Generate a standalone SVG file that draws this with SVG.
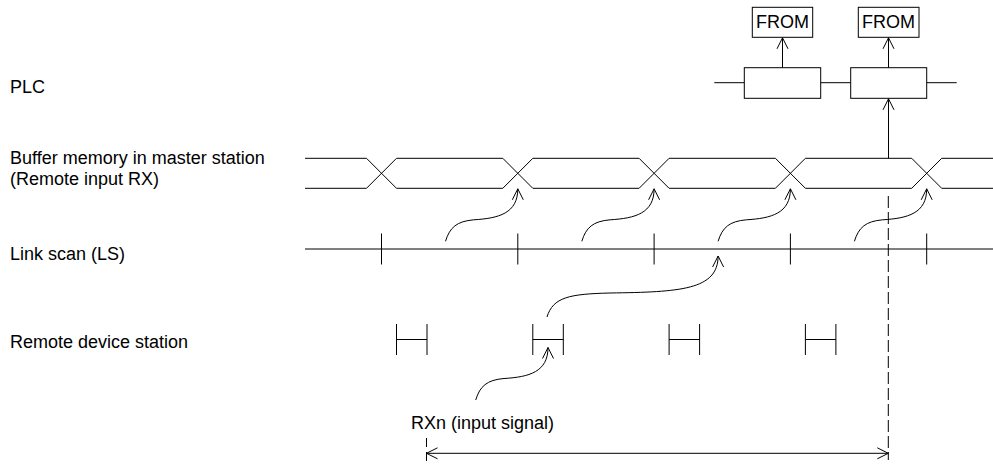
<svg xmlns="http://www.w3.org/2000/svg" width="993" height="464" viewBox="0 0 993 464">
<style>
text{font-family:"Liberation Sans",Arial,sans-serif;font-size:18px;fill:#000}
.ln{fill:none;stroke:#000;stroke-width:1}
.box{fill:#fff;stroke:#000;stroke-width:1}
.dash{fill:none;stroke:#000;stroke-width:1;stroke-dasharray:12,4}
.arr{fill:none;stroke:#000;stroke-width:1;marker-end:url(#ah)}
</style>
<defs>
<marker id="ah" markerUnits="userSpaceOnUse" markerWidth="14" markerHeight="14" refX="12" refY="7" orient="auto-start-reverse" viewBox="0 0 14 14">
<path d="M1,1.5 L12,7 L1,12.5" fill="none" stroke="#000" stroke-width="1"/>
</marker>
</defs>
<rect width="993" height="464" fill="#fff"/>
<g id="labels">
<text x="10" y="93.3">PLC</text>
<text x="10" y="163.7">Buffer memory in master station</text>
<text x="10" y="184.7">(Remote input RX)</text>
<text x="10" y="259.7">Link scan (LS)</text>
<text x="10" y="348.3">Remote device station</text>
<text x="411" y="429.3">RXn (input signal)</text>
</g>
<g id="plc-line">
<path class="ln" d="M714.3,82.7 H956.7"/>
</g>
<g id="plc-box-1"><rect class="box" x="744.3" y="67.7" width="76.4" height="30.6"/></g>
<g id="plc-box-2"><rect class="box" x="850.7" y="67.7" width="76" height="30.6"/></g>
<g id="from-1"><rect class="box" x="752.3" y="7.3" width="60.4" height="30"/><text x="782.5" y="28.3" text-anchor="middle">FROM</text></g>
<g id="from-2"><rect class="box" x="858.3" y="7.3" width="60.7" height="30"/><text x="888.6" y="28.3" text-anchor="middle">FROM</text></g>
<g id="buffer-memory">
<path class="ln" d="M305,158.3 H366.5 M396.5,158.3 H502.8 M532.8,158.3 H639.1 M669.1,158.3 H775.4 M805.4,158.3 H911.7 M941.7,158.3 H993
M305,188.3 H366.5 M396.5,188.3 H502.8 M532.8,188.3 H639.1 M669.1,188.3 H775.4 M805.4,188.3 H911.7 M941.7,188.3 H993
M366.5,158.3 L396.5,188.3 M366.5,188.3 L396.5,158.3
M502.8,158.3 L532.8,188.3 M502.8,188.3 L532.8,158.3
M639.1,158.3 L669.1,188.3 M639.1,188.3 L669.1,158.3
M775.4,158.3 L805.4,188.3 M775.4,188.3 L805.4,158.3
M911.7,158.3 L941.7,188.3 M911.7,188.3 L941.7,158.3"/>
</g>
<g id="link-scan">
<path class="ln" d="M305,249 H993 M381.5,233.5 V264.5 M517.8,233.5 V264.5 M654.1,233.5 V264.5 M790.4,233.5 V264.5 M926.7,233.5 V264.5"/>
</g>
<g id="remote-device-station">
<path class="ln" d="M396.5,324 V355 M427,324 V355 M396.5,339.5 H427
M532.8,324 V355 M563.3,324 V355 M532.8,339.5 H563.3
M669.1,324 V355 M699.6,324 V355 M669.1,339.5 H699.6
M805.4,324 V355 M835.9,324 V355 M805.4,339.5 H835.9"/>
</g>
<g id="connectors">
<path class="arr" d="M782.5,67.7 V37.8"/>
<path class="arr" d="M888.5,67.7 V37.8"/>
<path class="arr" d="M888.5,158.3 V98.8"/>
<path class="arr" d="M445.5,241.3 c4.3,-14 11.3,-20 28.3,-21.5 c25,-1.5 44,-6.5 44,-31"/>
<path class="arr" d="M581.8,241.3 c4.3,-14 11.3,-20 28.3,-21.5 c25,-1.5 44,-6.5 44,-31"/>
<path class="arr" d="M718.1,241.3 c4.3,-14 11.3,-20 28.3,-21.5 c25,-1.5 44,-6.5 44,-31"/>
<path class="arr" d="M854.4,241.3 c4.3,-14 11.3,-20 28.3,-21.5 c25,-1.5 44,-6.5 44,-31"/>
<path class="arr" d="M547,317 C553,297 570,294 610,293 C680,292 718.1,290 718.1,256"/>
<path class="arr" d="M475.7,400 c4.3,-14 11.3,-20 28.3,-21.5 c25,-1.5 44,-6.5 44,-31"/>
<path class="dash" d="M888.3,196 V460"/>
<path class="ln" d="M426.5,438 V464" stroke-dasharray="9,5"/>
<path class="arr" d="M426.5,453.3 H888.3" marker-start="url(#ah)"/>
</g>
</svg>
